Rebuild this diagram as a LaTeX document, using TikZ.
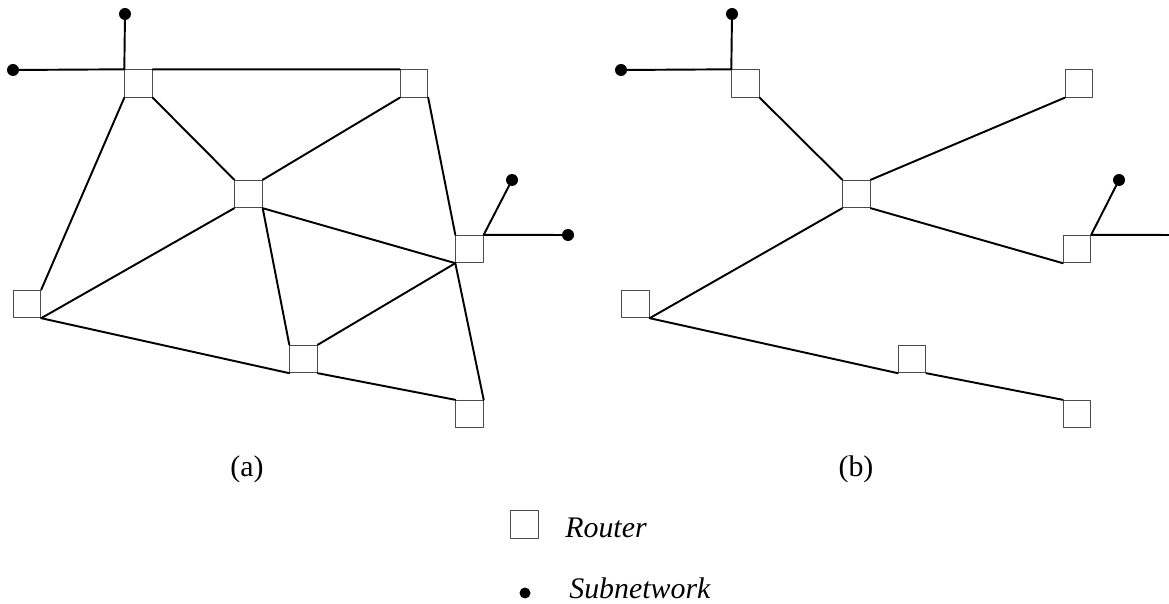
\documentclass[tikz,border=0pt]{standalone}
\usepackage{fontspec}
\setmainfont{Liberation Serif}
\begin{document}
\begin{tikzpicture}[x=0.02cm, y=-0.02cm, line join=round, line cap=round, font=\fontsize{17}{20}\selectfont,
	router/.style={draw=black!70, line width=0.5pt, fill=white, minimum size=0.55cm, inner sep=0pt},
	subnet/.style={circle, fill=black, minimum size=0.24cm, inner sep=0pt},
	link/.style={line width=1.1pt}]
	\clip (0,0) rectangle (1169,604);
	% (a)
	\node[router] (a1) at (138.5,83.5) {};
	\node[router] (a2) at (414,83.5) {};
	\node[router] (a3) at (248.5,194) {};
	\node[router] (a4) at (469.5,249) {};
	\node[router] (a5) at (27,304) {};
	\node[router] (a6) at (303.5,359) {};
	\node[router] (a7) at (469.5,414) {};
	\node[subnet] (sa1) at (125,14) {};
	\node[subnet] (sa2) at (13,70) {};
	\node[subnet] (sa3) at (512,180) {};
	\node[subnet] (sa4) at (568,235) {};
	\draw[link] (sa1)--(a1.north west) (sa2)--(a1.north west) (a1.north east)--(a2.north west);
	\draw[link] (a4.north east)--(sa3) (a4.north east)--(sa4);
	\draw[link] (a1.south west)--(a5.north east) (a1.south east)--(a3.north west) (a2.south west)--(a3.north east) (a2.south east)--(a4.north west);
	\draw[link] (a3.south west)--(a5.south east) (a3.south east)--(a4.south west) (a3.south east)--(a6.north west);
	\draw[link] (a5.south east)--(a6.south west) (a6.north east)--(a4.south west) (a6.south east)--(a7.north west) (a4.south west)--(a7.north east);
	% (b)
	\node[router] (b1) at (745.5,83.5) {};
	\node[router] (b2) at (1079,83.5) {};
	\node[router] (b3) at (856.5,194) {};
	\node[router] (b4) at (1077,249) {};
	\node[router] (b5) at (635.5,304) {};
	\node[router] (b6) at (912,359) {};
	\node[router] (b7) at (1077,414) {};
	\node[subnet] (sb1) at (732,14) {};
	\node[subnet] (sb2) at (621,70) {};
	\node[subnet] (sb3) at (1119,180) {};
	\node[subnet] (sb4) at (1176,235) {};
	\draw[link] (sb1)--(b1.north west) (sb2)--(b1.north west);
	\draw[link] (b4.north east)--(sb3) (b4.north east)--(sb4);
	\draw[link] (b1.south east)--(b3.north west) (b2.south west)--(b3.north east);
	\draw[link] (b3.south west)--(b5.south east) (b3.south east)--(b4.south west);
	\draw[link] (b5.south east)--(b6.south west) (b6.south east)--(b7.north west);
	% labels and key
	\node[anchor=base] (la) at (247,476) {(a)};
	\node[anchor=base] (lb) at (856,476) {(b)};
	\node[router] (key1) at (524.5,524.5) {};
	\node[subnet, minimum size=0.22cm] (key2) at (525,593) {};
	\node[anchor=base west, inner sep=0pt] (t1) at (565,537) {\itshape Router};
	\node[anchor=base west, inner sep=0pt] (t2) at (569,598) {\itshape Subnetwork};
\end{tikzpicture}
\end{document}
